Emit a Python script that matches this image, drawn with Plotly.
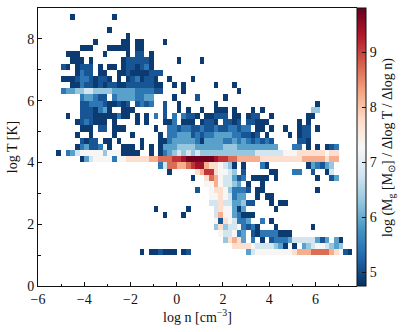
import plotly.graph_objects as go

# Histogram bins: log n from -6 in steps of 0.2, log T from 0 in steps of 0.2
N_COLS = 69
N_ROWS = 45
BIN_N = 0.2
BIN_T = 0.2
N_START = -6.0
T_START = 0.0

# Mass level (log) for each letter
LEVELS = {"0": 4.85, "1": 5.1, "2": 5.45, "3": 5.9, "4": 6.3, "5": 6.8, "6": 7.3,
          "7": 7.7, "8": 8.2, "9": 8.7, "A": 9.1, "B": 9.4, "C": 9.75}

# row index (log T bin) -> runs of (first log n bin, levels)
CELLS = {
    43: [(7, "0"), (16, "0")],
    41: [(15, "0")],
    40: [(19, "0")],
    39: [(12, "0"), (18, "00"), (21, "00"), (27, "0")],
    38: [(9, "000"), (15, "00000"), (21, "00")],
    37: [(6, "000"), (14, "0"), (19, "0"), (21, "11"), (24, "0")],
    36: [(7, "000"), (11, "0"), (18, "01"), (20, "1111"), (24, "0"), (30, "0"), (35, "0")],
    35: [(5, "10"), (8, "0111"), (13, "0"), (15, "00"), (18, "0110120")],
    34: [(8, "0211"), (13, "00"), (17, "001000"), (23, "0111")],
    33: [(5, "00"), (7, "01221"), (12, "011"), (15, "0"), (17, "0"), (19, "0120110"), (28, "0"), (33, "0")],
    32: [(7, "00"), (9, "211"), (12, "010110011111100"), (29, "0"), (31, "0"), (38, "0"), (42, "0")],
    31: [(5, "2334455"), (12, "44443333322221"), (26, "1"), (31, "0"), (43, "0")],
    30: [(9, "23321"), (14, "1"), (16, "2333"), (20, "3223"), (24, "3"), (29, "0"), (34, "1"), (40, "0")],
    29: [(9, "112221"), (15, "00101"), (21, "1212"), (27, "1"), (30, "0"), (38, "0"), (60, "0")],
    28: [(9, "111"), (12, "023"), (15, "0"), (18, "000"), (27, "1"), (30, "0"), (32, "0"), (35, "0"),
         (38, "000"), (42, "0"), (46, "0"), (48, "0"), (59, "44")],
    27: [(6, "0"), (9, "111"), (12, "000"), (15, "002"), (18, "00"), (21, "0"), (23, "0"), (25, "2"),
         (27, "1"), (29, "2"), (31, "2110"), (36, "00"), (38, "111"), (42, "00"), (45, "011"), (50, "0"), (58, "00")],
    26: [(8, "0121000"), (16, "0"), (21, "0"), (23, "0"), (27, "002"), (31, "000"), (35, "011"), (38, "0"),
         (40, "1101"), (45, "110"), (48, "00"), (56, "0"), (58, "0")],
    25: [(9, "000"), (13, "11"), (16, "000"), (25, "0"), (28, "221221121121122122"), (47, "00"), (50, "0"),
         (53, "0"), (56, "011"), (60, "0")],
    24: [(8, "0"), (11, "0"), (16, "0"), (20, "0"), (26, "0"), (28, "223331212"), (37, "2333322"), (44, "1"),
         (45, "101"), (49, "0"), (54, "0"), (56, "011")],
    23: [(9, "1011"), (14, "00"), (17, "0"), (22, "0"), (26, "00"), (28, "2333332"), (35, "0"), (36, "333"),
         (39, "3223232"), (46, "12"), (48, "1"), (49, "2"), (50, "1"), (56, "110")],
    22: [(8, "02311"), (13, "2"), (15, "0"), (18, "000"), (22, "0"), (24, "0"), (26, "0"),
         (27, "33344443333"), (38, "33444333333333"), (55, "22"), (58, "0"), (60, "0"), (62, "012")],
    21: [(4, "0"), (6, "235"), (9, "66666"), (14, "4"), (15, "666"), (18, "0000"), (24, "0"), (26, "0"),
         (27, "2345454544"), (37, "4444444444"), (47, "5555556"), (54, "66"), (56, "7777776"), (63, "77")],
    20: [(9, "035"), (12, "6666"), (16, "2"), (17, "6677777"), (24, "88999AABCCCCCCBAA99"),
         (43, "8888877777777788888788")],
    19: [(26, "2599889AB"), (35, "B"), (36, "8"), (37, "77"), (39, "65"), (41, "4"), (42, "0"),
         (44, "0"), (48, "20"), (58, "0"), (59, "3"), (60, "2"), (61, "1"), (62, "3"), (63, "4")],
    18: [(28, "0"), (34, "78AA7"), (39, "665"), (42, "4"), (44, "1"), (50, "00"), (55, "22"), (59, "1"), (62, "0"), (63, "5")],
    17: [(33, "0"), (36, "7"), (37, "98"), (39, "655"), (42, "3"), (43, "12"), (46, "0000"), (51, "0"), (60, "0"), (63, "13")],
    16: [(36, "6"), (37, "68"), (39, "6"), (40, "5"), (41, "54"), (43, "3"), (45, "0"), (48, "0")],
    15: [(34, "1"), (37, "67"), (39, "7"), (40, "6"), (41, "4"), (42, "2"), (43, "22"), (45, "1"), (47, "00"), (60, "0")],
    14: [(37, "6"), (38, "67"), (40, "6"), (41, "5"), (42, "2"), (43, "33"), (47, "0"), (49, "00")],
    13: [(37, "55"), (39, "7"), (40, "5"), (41, "5"), (42, "3"), (43, "34"), (45, "11"), (50, "0"), (52, "00")],
    12: [(25, "0"), (32, "0"), (38, "5"), (39, "7"), (40, "66"), (42, "3"), (43, "0"), (44, "3"), (51, "0")],
    11: [(27, "0"), (31, "0"), (38, "5"), (39, "8"), (40, "66"), (42, "3"), (43, "2"), (44, "000")],
    10: [(38, "6"), (39, "1"), (40, "7"), (41, "6"), (42, "5"), (43, "22"), (45, "3"), (48, "2"), (50, "0")],
    9: [(38, "4"), (39, "7"), (40, "4"), (41, "55"), (43, "6"), (44, "2"), (45, "1"), (46, "2"), (47, "0"), (51, "0"), (59, "0")],
    8: [(39, "6"), (40, "55"), (42, "6"), (43, "2"), (44, "3"), (46, "1"), (47, "0"), (48, "2222"), (52, "000")],
    7: [(40, "4"), (41, "787"), (44, "3"), (46, "2"), (48, "0"), (50, "1"), (51, "2223"), (55, "5"), (56, "5555"),
        (60, "3"), (61, "1"), (62, "3"), (64, "3"), (65, "0")],
    6: [(42, "7"), (43, "777"), (46, "6"), (47, "5555"), (51, "4"), (52, "3"), (53, "0"), (55, "0"), (57, "3"),
        (58, "4"), (59, "5665"), (63, "4"), (64, "34")],
    5: [(22, "0"), (24, "00"), (26, "1"), (27, "000"), (31, "0"), (32, "1"), (45, "3"), (46, "5"), (47, "66666666"),
        (55, "7"), (56, "8"), (57, "88"), (59, "9999"), (63, "8"), (64, "7"), (65, "6"), (66, "1"), (67, "0")],
}

X_TICKS = [-6, -4, -2, 0, 2, 4, 6]
Y_TICKS = [0, 2, 4, 6, 8]
CBAR_TICKS = [5, 6, 7, 8, 9]
Z_MIN = 4.75
Z_MAX = 9.8
RDBU_R = ["#053061", "#2166ac", "#4393c3", "#92c5de", "#d1e5f0", "#f7f7f7",
          "#fddbc7", "#f4a582", "#d6604d", "#b2182b", "#67001f"]

FONT = "Liberation Serif"
INK = "#111111"

z = [[None] * N_COLS for _ in range(N_ROWS)]
for row, runs in CELLS.items():
    for start, codes in runs:
        for i, code in enumerate(codes):
            z[row][start + i] = LEVELS[code]

colorscale = [[i / (len(RDBU_R) - 1), c] for i, c in enumerate(RDBU_R)]

fig = go.Figure(go.Heatmap(
    z=z,
    x0=N_START + BIN_N / 2, dx=BIN_N,
    y0=T_START + BIN_T / 2, dy=BIN_T,
    zmin=Z_MIN, zmax=Z_MAX,
    colorscale=colorscale,
    hoverongaps=False,
    colorbar=dict(
        thickness=9, thicknessmode="pixels",
        len=1, lenmode="fraction", y=0, yanchor="bottom",
        x=1, xanchor="left", xpad=0, ypad=0,
        outlinewidth=1, outlinecolor=INK,
        ticks="inside", ticklen=4, tickwidth=1, tickcolor=INK,
        tickvals=CBAR_TICKS,
        tickfont=dict(family=FONT, size=14, color=INK),
    ),
))

axis_style = dict(
    automargin=False,
    showgrid=False, zeroline=False, showline=True, linecolor=INK, linewidth=1,
    ticks="inside", ticklen=4, tickwidth=1, tickcolor=INK,
    tickfont=dict(family=FONT, size=14, color=INK),
    minor=dict(ticks="inside", ticklen=2.5, tickwidth=1, tickcolor=INK, dtick=1, showgrid=False),
)

fig.update_layout(
    width=406, height=332,
    margin=dict(l=38, r=49, t=8, b=46, pad=0, autoexpand=False),
    paper_bgcolor="white", plot_bgcolor="white",
    xaxis=dict(range=[-6, 7.8], tickvals=X_TICKS, mirror=True,
               title=dict(text="log n [cm<sup>−3</sup>]", font=dict(family=FONT, size=14, color=INK), standoff=6),
               **axis_style),
    yaxis=dict(range=[0, 9], tickvals=Y_TICKS,
               title=dict(text="log T [K]", font=dict(family=FONT, size=14, color=INK), standoff=6),
               **axis_style),
    annotations=[dict(
        text="log (M<sub>g</sub> [M<sub>⊙</sub>] / Δlog T / Δlog n)",
        xref="paper", yref="paper", x=1.097, y=0.5, xanchor="center", yanchor="middle",
        textangle=-90, showarrow=False,
        font=dict(family=FONT, size=14, color=INK),
    )],
)

fig.write_html("out.html", config={"displayModeBar": False},
               post_script="document.body.style.margin='0';document.body.style.overflow='hidden';")
